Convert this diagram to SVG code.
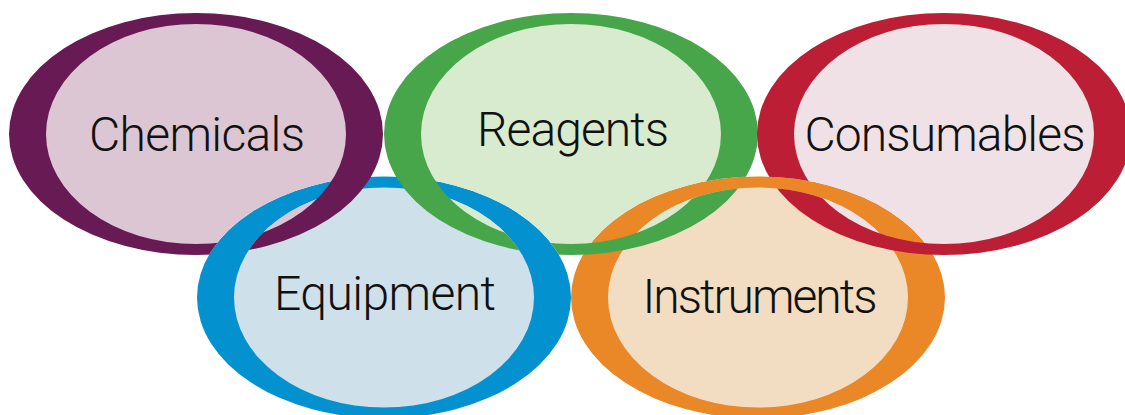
<svg xmlns="http://www.w3.org/2000/svg" xmlns:xlink="http://www.w3.org/1999/xlink" width="1125" height="415" viewBox="0 0 1125 415">
  <style>
    .lbl { font-family: "Roboto", "Liberation Sans", sans-serif; font-weight: 300; font-size: 48px; fill: #111111; text-anchor: middle; }
  </style>
  <defs>
    <path id="bandEq" fill-rule="evenodd" d="M197,297.5 a187,121 0 1,0 374,0 a187,121 0 1,0 -374,0 Z M234,297.5 a150,110 0 1,0 300,0 a150,110 0 1,0 -300,0 Z"/>
    <path id="bandIn" fill-rule="evenodd" d="M571,297.5 a187,121 0 1,0 374,0 a187,121 0 1,0 -374,0 Z M608,297.5 a150,110 0 1,0 300,0 a150,110 0 1,0 -300,0 Z"/>
    <path id="bandCh" fill-rule="evenodd" d="M9,134 a187,121 0 1,0 374,0 a187,121 0 1,0 -374,0 Z M46,134 a150,110 0 1,0 300,0 a150,110 0 1,0 -300,0 Z"/>
    <path id="bandRe" fill-rule="evenodd" d="M384,134 a187,121 0 1,0 374,0 a187,121 0 1,0 -374,0 Z M421,134 a150,110 0 1,0 300,0 a150,110 0 1,0 -300,0 Z"/>
    <path id="bandCo" fill-rule="evenodd" d="M757,134 a187,121 0 1,0 374,0 a187,121 0 1,0 -374,0 Z M794,134 a150,110 0 1,0 300,0 a150,110 0 1,0 -300,0 Z"/>
    <clipPath id="lowerPart"><rect x="0" y="222" width="1125" height="193"/></clipPath>
    <clipPath id="upperPart"><rect x="0" y="0" width="1125" height="222"/></clipPath>
    <mask id="mInCh" maskUnits="userSpaceOnUse" x="0" y="0" width="1125" height="415">
      <rect width="1125" height="415" fill="white"/>
      <use xlink:href="#bandEq" fill="black"/>
    </mask>
    <mask id="mBandCh" maskUnits="userSpaceOnUse" x="0" y="0" width="1125" height="415">
      <rect width="1125" height="415" fill="white"/>
      <use xlink:href="#bandEq" fill="black" clip-path="url(#lowerPart)"/>
    </mask>
    <mask id="mInRe" maskUnits="userSpaceOnUse" x="0" y="0" width="1125" height="415">
      <rect width="1125" height="415" fill="white"/>
      <use xlink:href="#bandEq" fill="black"/>
      <use xlink:href="#bandIn" fill="black"/>
    </mask>
    <mask id="mBandRe" maskUnits="userSpaceOnUse" x="0" y="0" width="1125" height="415">
      <rect width="1125" height="415" fill="white"/>
      <use xlink:href="#bandEq" fill="black" clip-path="url(#lowerPart)"/>
      <use xlink:href="#bandIn" fill="black" clip-path="url(#upperPart)"/>
    </mask>
    <mask id="mInCo" maskUnits="userSpaceOnUse" x="0" y="0" width="1125" height="415">
      <rect width="1125" height="415" fill="white"/>
      <use xlink:href="#bandIn" fill="black"/>
    </mask>
    <mask id="mBandCo" maskUnits="userSpaceOnUse" x="0" y="0" width="1125" height="415">
      <rect width="1125" height="415" fill="white"/>
      <use xlink:href="#bandIn" fill="black" clip-path="url(#upperPart)"/>
    </mask>
  </defs>

  <rect width="1125" height="415" fill="#ffffff"/>

  <g id="equipment">
    <ellipse cx="384" cy="297.5" rx="152" ry="112" fill="#CEE0EA"/>
    <use xlink:href="#bandEq" fill="#0391CF"/>
    <text class="lbl" x="385" y="310" textLength="222">Equipment</text>
  </g>

  <g id="instruments">
    <ellipse cx="758" cy="297.5" rx="152" ry="112" fill="#F2DDC3"/>
    <use xlink:href="#bandIn" fill="#EA8726"/>
    <text class="lbl" x="760" y="313" textLength="235">Instruments</text>
  </g>

  <g id="chemicals">
    <ellipse cx="196" cy="134" rx="152" ry="112" fill="#DCC6D3" mask="url(#mInCh)"/>
    <use xlink:href="#bandCh" fill="#681A55" mask="url(#mBandCh)"/>
    <text class="lbl" x="197" y="151" textLength="216">Chemicals</text>
  </g>

  <g id="reagents">
    <ellipse cx="571" cy="134" rx="152" ry="112" fill="#D8EBCF" mask="url(#mInRe)"/>
    <use xlink:href="#bandRe" fill="#47A54A" mask="url(#mBandRe)"/>
    <text class="lbl" x="573" y="146" textLength="192">Reagents</text>
  </g>

  <g id="consumables">
    <ellipse cx="944" cy="134" rx="152" ry="112" fill="#EFE1E6" mask="url(#mInCo)"/>
    <use xlink:href="#bandCo" fill="#BC1E36" mask="url(#mBandCo)"/>
    <text class="lbl" x="945" y="151" textLength="281">Consumables</text>
  </g>
</svg>
